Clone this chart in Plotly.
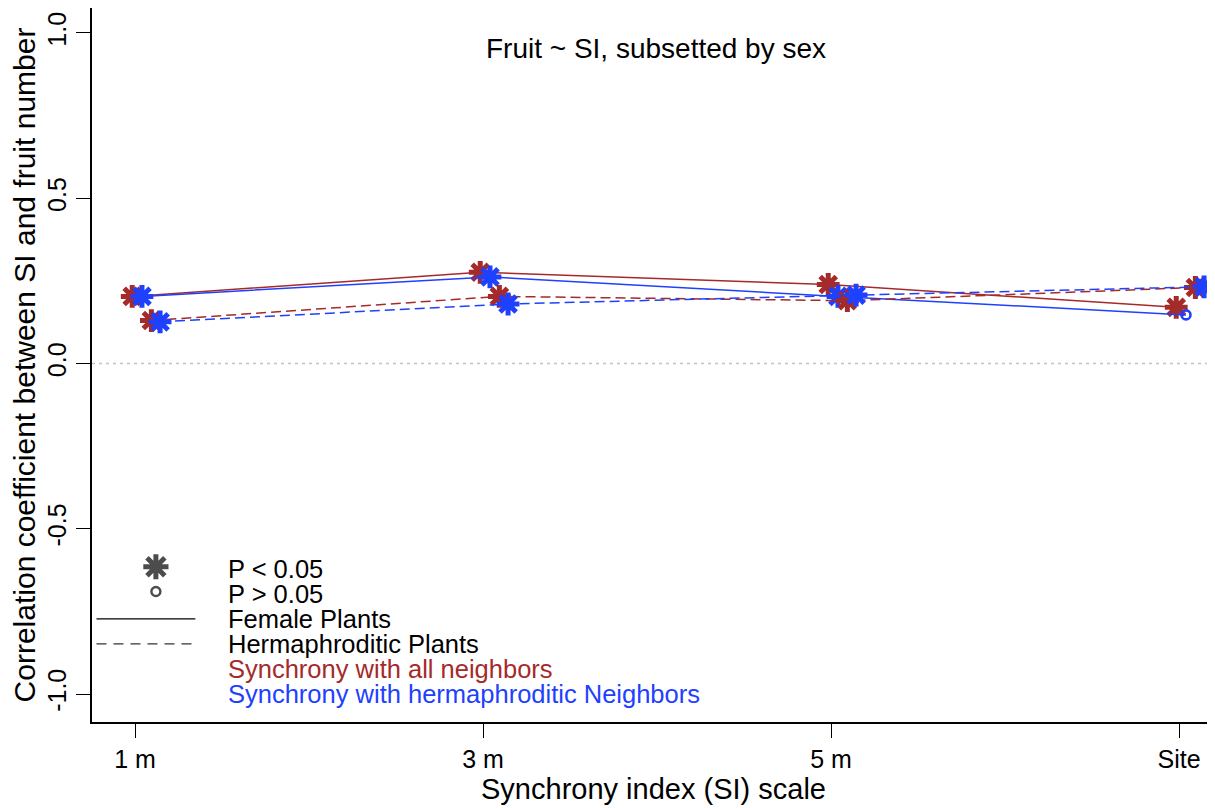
import plotly.graph_objects as go

# SI scales on the x axis
scales = ["1 m", "3 m", "5 m", "Site"]
scale_pos = [1, 2, 3, 4]

# correlation between SI and fruit number
female_all = [0.203, 0.276, 0.239, 0.170]
female_herm = [0.203, 0.262, 0.203, 0.147]
herm_all = [0.130, 0.203, 0.190, 0.230]
herm_herm = [0.126, 0.180, 0.207, 0.232]

# True -> P < 0.05 (star), False -> P > 0.05 (open circle)
female_all_sig = [True, True, True, True]
female_herm_sig = [True, True, True, False]
herm_all_sig = [True, True, True, True]
herm_herm_sig = [True, True, True, True]

RED = "#A52A2A"
BLUE = "#1E40FF"
FONT = "Liberation Sans, Arial, sans-serif"

fig = go.Figure()


def add_series(vals, sig, color, dash, dodge):
    xs = [p + dodge for p in scale_pos]
    fig.add_trace(go.Scatter(x=xs, y=vals, mode="lines",
                             line=dict(color=color, width=1.5, dash=dash),
                             showlegend=False, hoverinfo="skip"))
    symbols = ["asterisk-open" if s else "circle-open" for s in sig]
    sizes = [19 if s else 9 for s in sig]
    widths = [5 if s else 2.6 for s in sig]
    fig.add_trace(go.Scatter(x=xs, y=vals, mode="markers",
                             marker=dict(symbol=symbols, size=sizes, color=color, opacity=1,
                                         line=dict(color=color, width=widths)),
                             showlegend=False))


add_series(female_all, female_all_sig, RED, "solid", -0.008)
add_series(female_herm, female_herm_sig, BLUE, "solid", 0.02)
add_series(herm_all, herm_all_sig, RED, "10px,5px", 0.047)
add_series(herm_herm, herm_herm_sig, BLUE, "10px,5px", 0.072)

# legend keys (star / circle) drawn in data space at the lower left
fig.add_trace(go.Scatter(x=[1.06, 1.06], y=[-0.615, -0.69], mode="markers",
                         marker=dict(symbol=["asterisk-open", "circle-open"], size=[21, 9],
                                     color="black", line=dict(color="black", width=[5, 2.4])),
                         showlegend=False, hoverinfo="skip"))

# zero reference line
fig.add_shape(type="line", xref="paper", yref="y", x0=0, x1=1, y0=0, y1=0,
              line=dict(color="#c4c4c4", width=1.5, dash="3px,4px"), layer="below")

# legend line keys
fig.add_shape(type="line", xref="paper", yref="paper", x0=0.004, x1=0.092, y0=0.1443, y1=0.1443,
              line=dict(color="black", width=1.3))
fig.add_shape(type="line", xref="paper", yref="paper", x0=0.004, x1=0.092, y0=0.1093, y1=0.1093,
              line=dict(color="#333333", width=1.3, dash="10px,7px"))

legend_rows = [
    ("P < 0.05", "black", 0.2143),
    ("P > 0.05", "black", 0.1793),
    ("Female Plants", "black", 0.1443),
    ("Hermaphroditic Plants", "black", 0.1093),
    ("Synchrony with all neighbors", RED, 0.0743),
    ("Synchrony with hermaphroditic Neighbors", BLUE, 0.0393),
]
for txt, col, yy in legend_rows:
    fig.add_annotation(text=txt, xref="paper", yref="paper", x=0.1193, y=yy,
                       xanchor="left", yanchor="middle", showarrow=False,
                       font=dict(family=FONT, size=25.5, color=col))

fig.add_annotation(text="Fruit ~ SI, subsetted by sex", xref="paper", yref="paper",
                   x=(656 - 92) / 1123, y=(722 - 48) / 714, xanchor="center", yanchor="middle",
                   showarrow=False, font=dict(family=FONT, size=28, color="black"))

# the page body adds an 8px margin, so the figure is 8px smaller and shifted
fig.update_layout(
    width=1207, height=800,
    margin=dict(l=84, r=0, t=0, b=86),
    plot_bgcolor="white", paper_bgcolor="white",
    font=dict(family=FONT, color="black"),
    xaxis=dict(range=[0.8764, 4.1034], tickvals=scale_pos, ticktext=scales,
               showgrid=False, zeroline=False, showline=True, mirror=True,
               linecolor="black", linewidth=1.5, ticks="outside", ticklen=14,
               tickwidth=1.3, tickcolor="black", tickfont=dict(size=25),
               automargin=False,
               title=dict(text="Synchrony index (SI) scale", font=dict(size=29), standoff=6)),
    yaxis=dict(range=[-1.0847, 1.0756], tickvals=[-1, -0.5, 0, 0.5, 1],
               ticktext=["-1.0", "-0.5", "0.0", "0.5", "1.0"], tickangle=-90,
               showgrid=False, zeroline=False, showline=True, mirror=False,
               linecolor="black", linewidth=1.5, ticks="outside", ticklen=14,
               tickwidth=1.3, tickcolor="black", tickfont=dict(size=25),
               automargin=False,
               title=dict(text="Correlation coefficient between SI and fruit number",
                          font=dict(size=30), standoff=14)),
)

fig.write_html("out.html")
